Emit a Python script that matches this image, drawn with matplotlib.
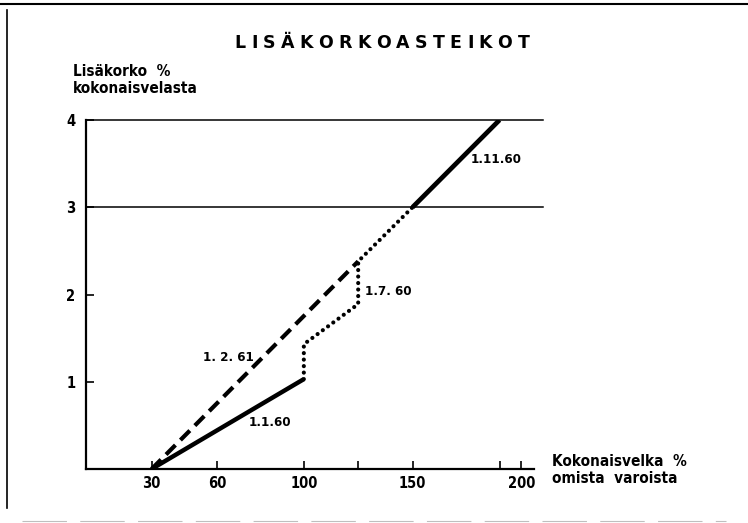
import matplotlib
matplotlib.use("Agg")
import matplotlib.pyplot as plt
from matplotlib.lines import Line2D

# Kokonaisvelka % omista varoista (x) ja lisäkorko % kokonaisvelasta (y)
kv_1160 = [30, 100]
lk_1160 = [0, 1.03]

kv_1760 = [100, 100, 125, 125, 150]
lk_1760 = [1.03, 1.43, 1.89, 2.38, 3.0]

kv_1261 = [30, 125]
lk_1261 = [0, 2.38]

kv_11160 = [150, 190]
lk_11160 = [3.0, 4.0]

x_ticks = [30, 60, 100, 125, 150, 190, 200]
x_labels = ["30", "60", "100", "", "150", "", "200"]
y_ticks = [1, 2, 3, 4]
y_labels = ["1", "2", "3", "4"]
grid_y = [3, 4]

plt.rcParams['font.family'] = ['DejaVu Sans']
plt.rcParams['font.weight'] = 'bold'
plt.rcParams['font.stretch'] = 'condensed'

W, H = 748, 523
fig = plt.figure(figsize=(W / 100, H / 100), dpi=100)
ax = fig.add_axes([86.4 / W, 1 - 469 / H, (543 - 86.4) / W, (469 - 120) / H])
ax.set_xlim(0, 210)
ax.set_ylim(0, 4)

for g in grid_y:
    ax.axhline(g, color='black', lw=1.1, clip_on=False)

ax.plot(kv_1160, lk_1160, color='black', lw=3.2, solid_capstyle='butt')
ax.plot(kv_1261, lk_1261, color='black', lw=3.0, linestyle=(0, (3.2, 1.7)),
        dash_capstyle='butt')
ax.plot(kv_1760, lk_1760, color='black', lw=3.0, linestyle=(0, (0.01, 1.55)),
        dash_capstyle='round')
ax.plot(kv_11160, lk_11160, color='black', lw=3.4, solid_capstyle='butt')

lab_kw = dict(fontsize=9.5, fontweight='bold')
ax.text(53.6, 1.24, "1. 2. 61", **lab_kw)
ax.text(74.7, 0.49, "1.1.60", **lab_kw)
ax.text(128, 1.99, "1.7. 60", **lab_kw)
ax.text(176.6, 3.51, "1.11.60", **lab_kw)

for s in ['top', 'right']:
    ax.spines[s].set_visible(False)
ax.spines['left'].set_linewidth(1.6)
ax.spines['bottom'].set_linewidth(1.6)
ax.spines['bottom'].set_bounds(0, 206)

ax.set_xticks(x_ticks)
ax.set_xticklabels(x_labels)
ax.set_yticks(y_ticks)
ax.set_yticklabels(y_labels)
ax.tick_params(axis='both', direction='in', length=6, width=1.2,
               labelsize=10.5)
ax.tick_params(axis='y', pad=8)
ax.tick_params(axis='x', pad=5)
for lab in ax.get_xticklabels() + ax.get_yticklabels():
    lab.set_fontweight('bold')

# otsikko harvennettuna
title = "LISÄKORKOASTEIKOT"
t_kw = dict(fontsize=12.5, fontweight='bold', fontstretch='normal')
fig.canvas.draw()
r = fig.canvas.get_renderer()
widths = []
for ch in title:
    t = fig.text(0, 0, ch, **t_kw)
    widths.append(t.get_window_extent(r).width)
    t.remove()
span = 295
track = (span - sum(widths)) / (len(title) - 1)
x0 = 382 - span / 2
for ch, w in zip(title, widths):
    fig.text(x0 / W, 1 - 48 / H, ch, va='baseline', **t_kw)
    x0 += w + track

ax_kw = dict(fontsize=11, fontweight='bold', va='baseline')
fig.text(73 / W, 1 - 76 / H, "Lisäkorko  %", **ax_kw)
fig.text(73 / W, 1 - 93 / H, "kokonaisvelasta", **ax_kw)
fig.text(552 / W, 1 - 466 / H, "Kokonaisvelka  %", **ax_kw)
fig.text(552 / W, 1 - 483 / H, "omista  varoista", **ax_kw)

# kehys
fig.add_artist(Line2D([0, 1], [1 - 4 / H, 1 - 4 / H], color='black', lw=1.5))
fig.add_artist(Line2D([7 / W, 7 / W], [1 - 10 / H, 1 - 508 / H],
                      color='black', lw=1.2))
fig.add_artist(Line2D([0.03, 0.97], [1 - 521 / H, 1 - 521 / H],
                      color='0.75', lw=0.8, linestyle=(0, (40, 12))))

fig.savefig("out.png", dpi=100)
